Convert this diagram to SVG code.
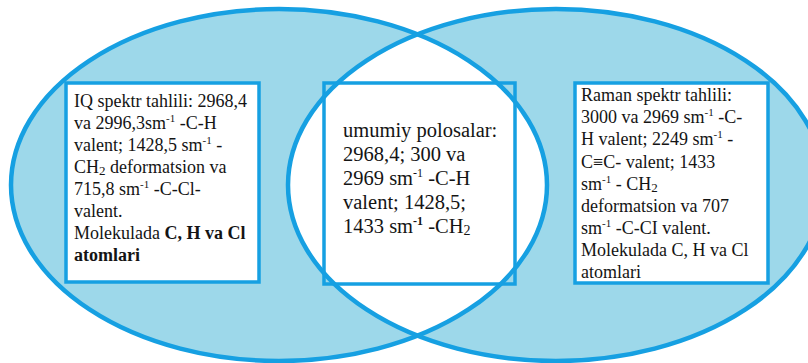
<svg xmlns="http://www.w3.org/2000/svg" width="808" height="363" viewBox="0 0 808 363">
<style>
.fillE{fill:#9dd8ea;stroke:none}
.strokeE{fill:none;stroke:#16a0e2;stroke-width:4.5}
.box{stroke:#16a0e2;stroke-width:3.5}
.t{font-family:"Liberation Serif","Times New Roman",serif;fill:#141414}
.s18{font-size:18px}
.s20{font-size:20.5px}
.sup{font-size:11px}
.sub{font-size:13px}
.b{font-weight:bold}
</style>
<defs>
<clipPath id="clipL"><ellipse cx="279" cy="185" rx="268" ry="176"/></clipPath>
</defs>
<rect width="808" height="363" fill="#ffffff"/>
<g id="venn-fill">
<ellipse class="fillE" cx="279" cy="185" rx="268" ry="176"/>
<ellipse class="fillE" cx="556" cy="185" rx="268" ry="176"/>
<ellipse cx="556" cy="185" rx="268" ry="176" fill="#ffffff" clip-path="url(#clipL)"/>
</g>
<g id="node-left">
<rect class="box" x="66" y="83" width="193" height="199" fill="#ffffff"/>
<text class="t s18" x="74" y="107">IQ spektr tahlili: 2968,4</text>
<text class="t s18" x="74" y="129">va 2996,3sm<tspan class="sup" dy="-7">-1</tspan><tspan dy="7"> -C-H</tspan></text>
<text class="t s18" x="74" y="151">valent; 1428,5 sm<tspan class="sup" dy="-7">-1</tspan><tspan dy="7"> -</tspan></text>
<text class="t s18" x="74" y="173">CH<tspan class="sub" dy="2">2</tspan><tspan dy="-2"> deformatsion va</tspan></text>
<text class="t s18" x="74" y="195">715,8 sm<tspan class="sup" dy="-7">-1</tspan><tspan dy="7"> -C-Cl-</tspan></text>
<text class="t s18" x="74" y="217">valent.</text>
<text class="t s18" x="74" y="239">Molekulada <tspan class="b">C, H va Cl</tspan></text>
<text class="t s18 b" x="74" y="261">atomlari</text>
</g>
<g id="node-center">
<rect class="box" x="324" y="83" width="191" height="201" fill="none"/>
<text class="t s20" x="343" y="137">umumiy polosalar:</text>
<text class="t s20" x="343" y="161">2968,4; 300 va</text>
<text class="t s20" x="343" y="185">2969 sm<tspan class="sup" dy="-8" style="font-size:12px">-1</tspan><tspan dy="8"> -C-H</tspan></text>
<text class="t s20" x="343" y="209">valent; 1428,5;</text>
<text class="t s20" x="343" y="233">1433 sm<tspan class="sup b" dy="-8" style="font-size:12px">-1</tspan><tspan dy="8"> -CH</tspan><tspan class="sub" dy="2" style="font-size:14px">2</tspan></text>
</g>
<g id="node-right">
<rect class="box" x="575" y="83" width="193" height="200" fill="#ffffff"/>
<text class="t s18" x="581" y="101">Raman spektr tahlili:</text>
<text class="t s18" x="581" y="123">3000 va 2969 sm<tspan class="sup" dy="-7">-1</tspan><tspan dy="7"> -C-</tspan></text>
<text class="t s18" x="581" y="145">H valent; 2249 sm<tspan class="sup" dy="-7">-1</tspan><tspan dy="7"> -</tspan></text>
<text class="t s18" x="581" y="168">C≡C- valent; 1433</text>
<text class="t s18" x="581" y="190">sm<tspan class="sup" dy="-7">-1</tspan><tspan dy="7"> - CH</tspan><tspan class="sub" dy="2">2</tspan></text>
<text class="t s18" x="581" y="212">deformatsion va 707</text>
<text class="t s18" x="581" y="234">sm<tspan class="sup" dy="-7">-1</tspan><tspan dy="7"> -C-CI valent.</tspan></text>
<text class="t s18" x="581" y="256">Molekulada C, H va Cl</text>
<text class="t s18" x="581" y="278">atomlari</text>
</g>
<g id="venn-outline">
<ellipse class="strokeE" cx="279" cy="185" rx="268" ry="176"/>
<ellipse class="strokeE" cx="556" cy="185" rx="268" ry="176"/>
</g>
<g id="connectors"/>
</svg>
